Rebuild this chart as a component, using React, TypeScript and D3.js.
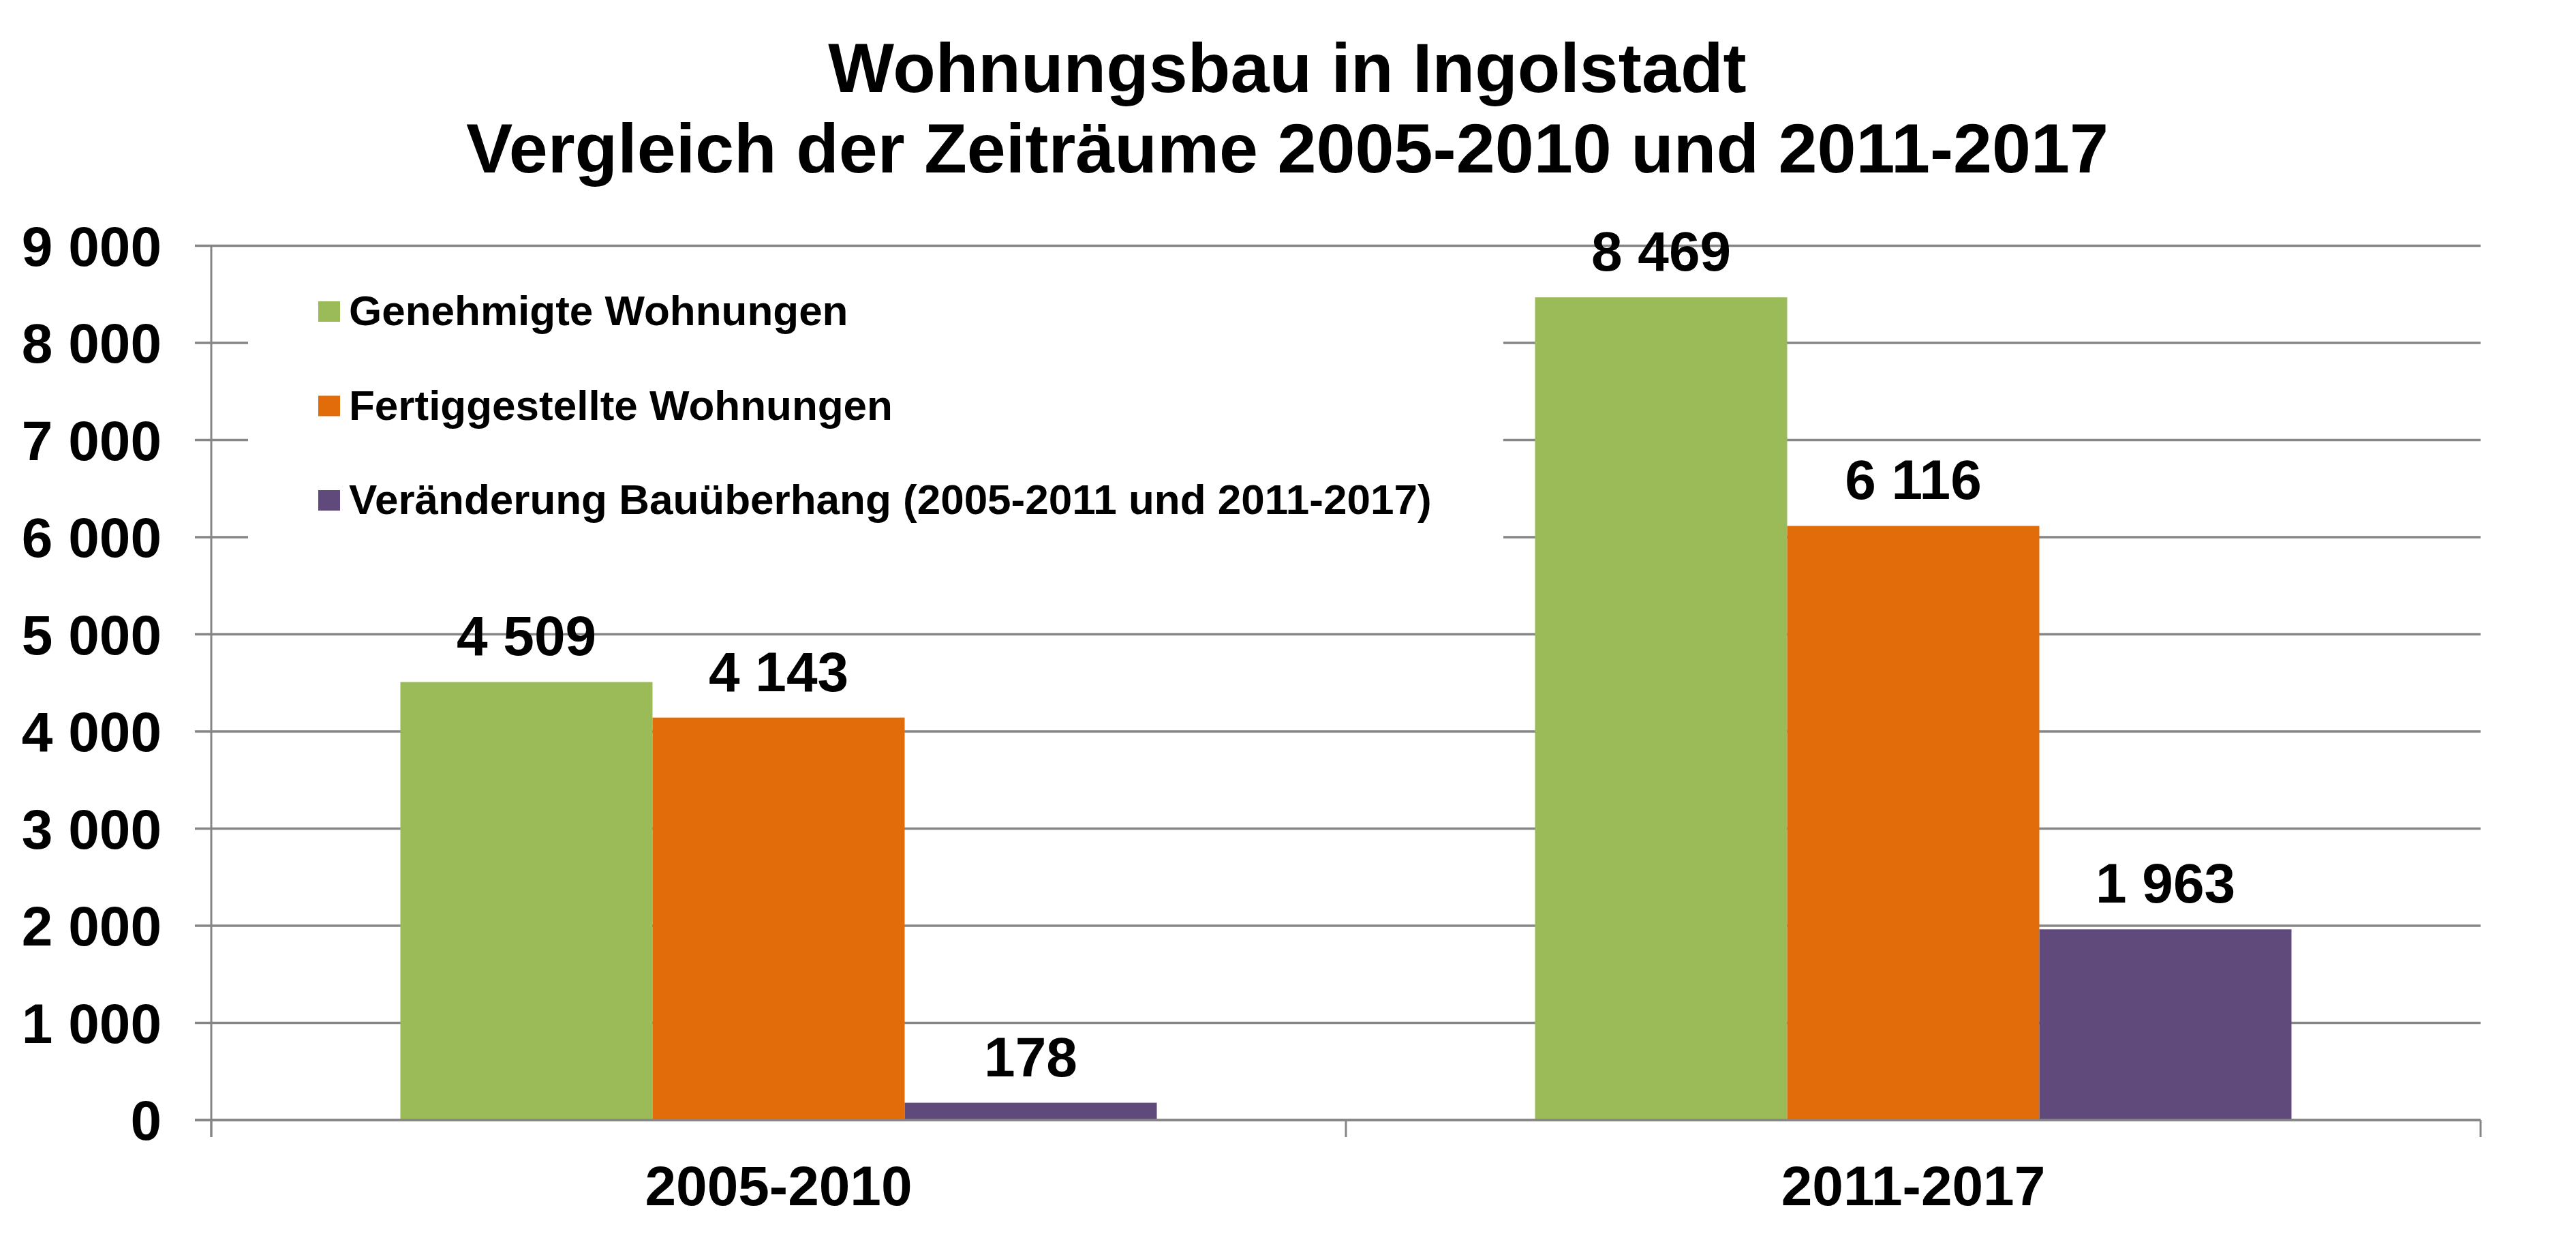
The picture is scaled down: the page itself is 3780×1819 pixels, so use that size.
import React from 'react';
import * as d3 from 'd3';

const categories = ['2005-2010', '2011-2017'];
const seriesNames = [
  'Genehmigte Wohnungen',
  'Fertiggestellte Wohnungen',
  'Veränderung Bauüberhang (2005-2011 und 2011-2017)',
];
const seriesColors = ['#9BBB59', '#E36C0A', '#604A7B'];
const genehmigt = [4509, 8469];
const fertig = [4143, 6116];
const bauueberhang = [178, 1963];
const yTicks = [0, 1000, 2000, 3000, 4000, 5000, 6000, 7000, 8000, 9000];
const titleLines = ['Wohnungsbau in Ingolstadt', 'Vergleich der Zeiträume 2005-2010 und 2011-2017'];

const W = 3780;
const H = 1819;
const FONT = 'Arial, "Liberation Sans", Helvetica, sans-serif';
const GRID = '#868686';

const fmt = (v: number) => d3.format(',')(v).replace(/,/g, ' ');

export default function App() {
  const seriesValues = [genehmigt, fertig, bauueberhang];

  const margin = { left: 310, right: 140, top: 360.5, bottom: 176 };
  const x = d3.scaleBand<string>()
    .domain(categories)
    .range([margin.left, W - margin.right])
    .padding(0);
  const xInner = d3.scaleBand<string>()
    .domain(seriesNames)
    .range([0, x.bandwidth()])
    .paddingInner(0)
    .paddingOuter(0.75);
  const y = d3.scaleLinear()
    .domain([0, 9000])
    .range([H - margin.bottom, margin.top]);

  const x0 = margin.left;
  const x1 = W - margin.right;
  const yZero = y(0);

  // legend box (white, hides gridlines beneath it)
  const legendBox = { x: 364, y: 385, w: 1842, h: 420 };
  const legendRow = (i: number) => 477 + i * 138.5;

  return (
    <svg
      width={W}
      height={H}
      style={{ position: 'absolute', left: 0, top: 0, background: '#fff' }}
      fontFamily={FONT}
    >
      <rect x={0} y={0} width={W} height={H} fill="#fff" />

      {titleLines.map((t, i) => (
        <text
          key={t}
          x={W / 2 - 1}
          y={135 + i * 118}
          textAnchor="middle"
          fontSize={102.5}
          fontWeight="bold"
          fill="#000"
        >
          {t}
        </text>
      ))}

      {/* gridlines + y ticks */}
      {yTicks.map(t => (
        <g key={t}>
          <line x1={x0 - 24} x2={x1} y1={y(t)} y2={y(t)} stroke={GRID} strokeWidth={3.5} />
          <text
            x={237}
            y={y(t) + 29}
            textAnchor="end"
            fontSize={82}
            fontWeight="bold"
            fill="#000"
          >
            {fmt(t)}
          </text>
        </g>
      ))}

      {/* legend */}
      <rect x={legendBox.x} y={legendBox.y} width={legendBox.w} height={legendBox.h} fill="#fff" />
      {seriesNames.map((name, i) => (
        <g key={name}>
          <rect x={467} y={legendRow(i) - 35} width={32} height={30} fill={seriesColors[i]} />
          <text x={512} y={legendRow(i)} fontSize={62} fontWeight="bold" fill="#000">
            {name}
          </text>
        </g>
      ))}

      {/* bars */}
      {categories.map((c, ci) => (
        <g key={c} transform={`translate(${x(c)},0)`}>
          {seriesNames.map((s, si) => {
            const v = seriesValues[si][ci];
            const bx = xInner(s) || 0;
            return (
              <g key={s}>
                <rect
                  x={bx}
                  y={y(v)}
                  width={xInner.bandwidth()}
                  height={yZero - y(v)}
                  fill={seriesColors[si]}
                />
                <text
                  x={bx + xInner.bandwidth() / 2}
                  y={y(v) - 39}
                  textAnchor="middle"
                  fontSize={82}
                  fontWeight="bold"
                  fill="#000"
                >
                  {fmt(v)}
                </text>
              </g>
            );
          })}
        </g>
      ))}

      {/* axes */}
      <line x1={x0} x2={x0} y1={y(9000)} y2={yZero + 25} stroke={GRID} strokeWidth={3} />
      <line x1={x0 - 24} x2={x1} y1={yZero} y2={yZero} stroke={GRID} strokeWidth={3.5} />
      {[...categories.map(c => x(c) || 0), x1].map((tx, i) => (
        <line key={i} x1={tx} x2={tx} y1={yZero} y2={yZero + 25} stroke={GRID} strokeWidth={3} />
      ))}
      {categories.map(c => (
        <text
          key={c}
          x={(x(c) || 0) + x.bandwidth() / 2}
          y={1768}
          textAnchor="middle"
          fontSize={82}
          fontWeight="bold"
          fill="#000"
        >
          {c}
        </text>
      ))}
    </svg>
  );
}
